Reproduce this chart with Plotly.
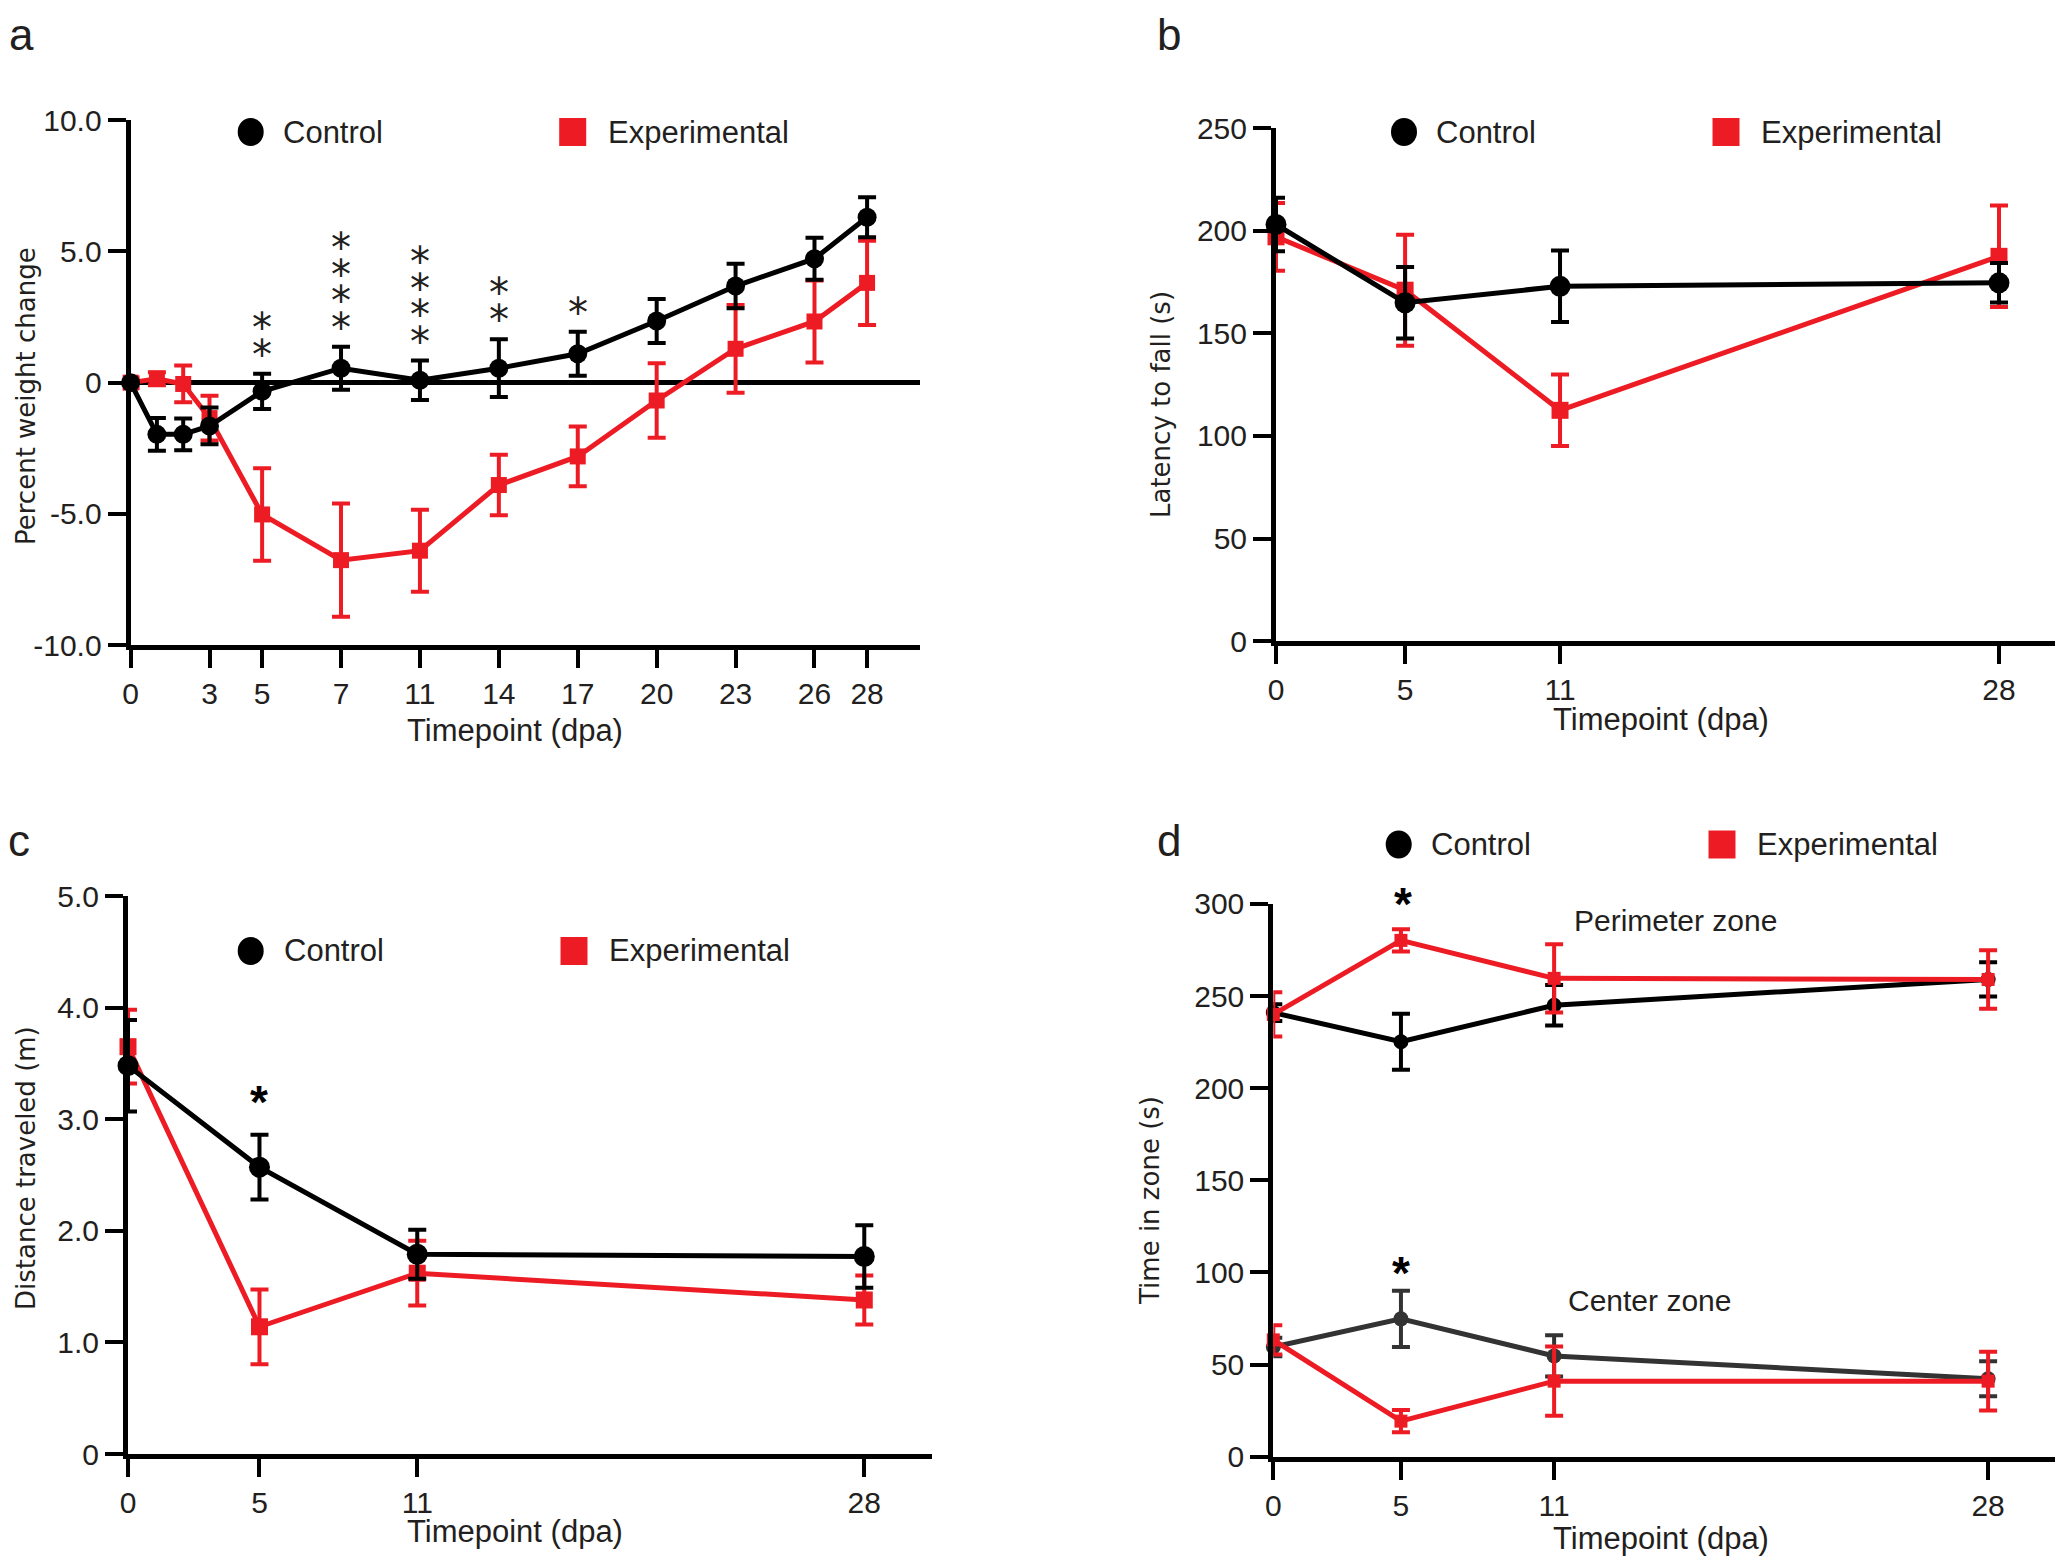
import plotly.graph_objects as go

# page geometry (body has an 8px margin in the browser)
PAGE_W, PAGE_H = 2069, 1567
OFF = 8
W, H = PAGE_W - 2 * OFF, PAGE_H - 2 * OFF
RED = "#ED1C24"
BLK = "#000000"
GRY = "#333333"
TXT = "#231F20"

# ---------------- data ----------------
# panel a: percent weight change
pos_a = [0, 1, 2, 3, 5, 8, 11, 14, 17, 20, 23, 26, 28]          # plotting positions
tickpos_a = [0, 3, 5, 8, 11, 14, 17, 20, 23, 26, 28]
ticklab_a = ["0", "3", "5", "7", "11", "14", "17", "20", "23", "26", "28"]
ctrl_a = [0, -1.97, -1.97, -1.65, -0.33, 0.55, 0.09, 0.55, 1.1, 2.35, 3.68, 4.72, 6.3]
ctrl_a_err = [0, 0.62, 0.6, 0.7, 0.67, 0.82, 0.75, 1.1, 0.84, 0.84, 0.85, 0.8, 0.76]
exp_a = [0, 0.15, -0.05, -1.35, -5.02, -6.76, -6.4, -3.9, -2.81, -0.68, 1.29, 2.33, 3.8]
exp_a_err = [0.2, 0.25, 0.7, 0.85, 1.76, 2.16, 1.56, 1.15, 1.14, 1.42, 1.67, 1.56, 1.6]
star_idx_a = [4, 5, 6, 7, 8]
star_cnt_a = [2, 4, 4, 2, 1]

# panel b: latency to fall
days = [0, 5, 11, 28]
ctrl_b = [203, 164.9, 172.9, 174.6]
ctrl_b_err = [13, 17.4, 17.4, 9.6]
exp_b = [197, 171, 112.5, 187.5]
exp_b_err = [16.5, 27, 17.4, 24.7]

# panel c: distance traveled
ctrl_c = [3.48, 2.57, 1.79, 1.77]
ctrl_c_err = [0.41, 0.29, 0.22, 0.28]
exp_c = [3.65, 1.14, 1.62, 1.38]
exp_c_err = [0.33, 0.335, 0.29, 0.22]

# panel d: time in zone
ctrl_d_per = [241, 225.2, 245, 259]
ctrl_d_per_err = [4.6, 15.2, 11, 9.3]
exp_d_per = [240, 280.2, 259.6, 259]
exp_d_per_err = [12, 6, 18.5, 15.9]
ctrl_d_cen = [59.5, 74.8, 54.7, 42.3]
ctrl_d_cen_err = [5, 15.2, 11.2, 9.5]
exp_d_cen = [63.4, 19.3, 41, 41]
exp_d_cen_err = [8, 6, 18.8, 15.9]


def px(x):
    return (x - OFF) / W


def py(y):
    return 1 - (y - OFF) / H


fig = go.Figure()


def add_series(x, y, err, color, symbol, size, xa, ya, lw=5):
    fig.add_trace(go.Scatter(
        x=x, y=y, mode="lines+markers", xaxis=xa, yaxis=ya,
        line=dict(color=color, width=lw),
        marker=dict(color=color, symbol=symbol, size=size),
        error_y=dict(type="data", array=err, visible=True, color=color, thickness=4, width=9),
        cliponaxis=False, showlegend=False, hoverinfo="skip"))


# panel a
add_series(pos_a, exp_a, exp_a_err, RED, "square", 16, "x", "y")
add_series(pos_a, ctrl_a, ctrl_a_err, BLK, "circle", 19, "x", "y")
# panel b
add_series(days, exp_b, exp_b_err, RED, "square", 17, "x2", "y2")
add_series(days, ctrl_b, ctrl_b_err, BLK, "circle", 21, "x2", "y2")
# panel c
add_series(days, exp_c, exp_c_err, RED, "square", 17, "x3", "y3")
add_series(days, ctrl_c, ctrl_c_err, BLK, "circle", 21, "x3", "y3")
# panel d
add_series(days, ctrl_d_per, ctrl_d_per_err, BLK, "circle", 15, "x4", "y4")
add_series(days, ctrl_d_cen, ctrl_d_cen_err, GRY, "circle", 15, "x4", "y4")
add_series(days, exp_d_per, exp_d_per_err, RED, "square", 13, "x4", "y4")
add_series(days, exp_d_cen, exp_d_cen_err, RED, "square", 13, "x4", "y4")

TICKFONT = dict(family="Liberation Sans", size=30, color=TXT)
common = dict(showline=True, linewidth=5, linecolor=BLK, ticks="outside", ticklen=18,
              tickwidth=4, tickcolor=BLK, showgrid=False, tickfont=TICKFONT, fixedrange=True,
              automargin=False)

fig.update_layout(
    width=W, height=H, margin=dict(l=0, r=0, t=0, b=0, pad=0),
    paper_bgcolor="white", plot_bgcolor="white", showlegend=False,
    xaxis=dict(domain=[px(130.6), px(919.7)], range=[0, 30], anchor="y",
               tickvals=tickpos_a, ticktext=ticklab_a, zeroline=False, **common),
    yaxis=dict(domain=[py(645.2), py(120.1)], range=[-10, 10], anchor="x",
               tickvals=[-10, -5, 0, 5, 10], ticktext=["-10.0", "-5.0", "0", "5.0", "10.0"],
               zeroline=True, zerolinecolor=BLK, zerolinewidth=5, **common),
    xaxis2=dict(domain=[px(1276), px(2054.5)], range=[0, 30.15], anchor="y2",
                tickvals=days, zeroline=False, **common),
    yaxis2=dict(domain=[py(641.3), py(128)], range=[0, 250], anchor="x2",
                tickvals=[0, 50, 100, 150, 200, 250], zeroline=False, **common),
    xaxis3=dict(domain=[px(128), px(931.6)], range=[0, 30.56], anchor="y3",
                tickvals=days, zeroline=False, **common),
    yaxis3=dict(domain=[py(1454), py(896)], range=[0, 5], anchor="x3",
                tickvals=[0, 1, 2, 3, 4, 5], ticktext=["0", "1.0", "2.0", "3.0", "4.0", "5.0"],
                zeroline=False, **common),
    xaxis4=dict(domain=[px(1273.3), px(2054.5)], range=[0, 30.6], anchor="y4",
                tickvals=days, zeroline=False, **common),
    yaxis4=dict(domain=[py(1456.7), py(903.9)], range=[0, 300], anchor="x4",
                tickvals=[0, 50, 100, 150, 200, 250, 300], zeroline=False, **common),
)

ann = []
shapes = []
LBL = dict(family="Liberation Sans", size=31, color=TXT)
YT = dict(family="DejaVu Sans", size=26, color=TXT)


def text(x, y, s, font, xanchor="center", angle=0, yanchor="middle"):
    ann.append(dict(x=px(x), y=py(y), xref="paper", yref="paper", text=s, showarrow=False,
                    xanchor=xanchor, yanchor=yanchor, font=font, textangle=angle))


# panel letters
LET = dict(family="Liberation Sans", size=44, color=TXT)
for (x, y, s) in [(21, 8, "a"), (1169, 8, "b"), (19, 814, "c"), (1169, 814, "d")]:
    text(x, y, s, LET, yanchor="top")

# axis titles
text(26, 396, "Percent weight change", YT, angle=-90)
text(1161, 405, "Latency to fall (s)", YT, angle=-90)
text(26, 1168, "Distance traveled (m)", YT, angle=-90)
text(1150, 1201, "Time in zone (s)", YT, angle=-90)
text(514.6, 730, "Timepoint (dpa)", LBL)
text(1661, 719, "Timepoint (dpa)", LBL)
text(514.6, 1531, "Timepoint (dpa)", LBL)
text(1661, 1558, "Timepoint (dpa)", LBL, yanchor="bottom")

# legends
legends = [((250.7, 132), (281, 132), (572.7, 132), (605.6, 132)),
           ((1404, 132), (1434, 132), (1726, 132), (1759, 132)),
           ((250.7, 951), (282, 951), (574, 951), (607, 951)),
           ((1398.7, 844.5), (1429, 844.5), (1722, 844.5), (1755, 844.5))]
for c, ct, s, st in legends:
    shapes.append(dict(type="circle", xref="paper", yref="paper", xsizemode="pixel", ysizemode="pixel",
                       xanchor=px(c[0]), yanchor=py(c[1]), x0=-13, x1=13, y0=-14, y1=14,
                       fillcolor=BLK, line=dict(width=0)))
    shapes.append(dict(type="rect", xref="paper", yref="paper", xsizemode="pixel", ysizemode="pixel",
                       xanchor=px(s[0]), yanchor=py(s[1]), x0=-13.5, x1=13.5, y0=-14, y1=14,
                       fillcolor=RED, line=dict(width=0)))
    text(ct[0], ct[1], "Control", LBL, xanchor="left")
    text(st[0], st[1], "Experimental", LBL, xanchor="left")

# zone labels
text(1675.8, 920, "Perimeter zone", dict(family="Liberation Sans", size=30, color=TXT))
text(1649, 1300, "Center zone", dict(family="Liberation Sans", size=30, color=TXT))

# significance stars panel a (one stacked text per timepoint)
STAR = '<span style="font-size:40px">*</span>'
for i, n in zip(star_idx_a, star_cnt_a):
    top = ctrl_a[i] + ctrl_a_err[i]
    ann.append(dict(x=pos_a[i], y=top, xref="x", yref="y", text="<br>".join([STAR] * n),
                    showarrow=False, xanchor="center", yanchor="bottom", yshift=-6,
                    font=dict(family="DejaVu Sans", size=20.5, color=TXT)))

# significance stars panels c, d
BOLDSTAR = dict(family="Liberation Sans", size=46, color=BLK)
ann.append(dict(x=days[1], y=3.23, xref="x3", yref="y3", text="<b>*</b>", showarrow=False,
                yshift=-8, font=BOLDSTAR))
text(1402.6, 903.6, "<b>*</b>", BOLDSTAR)
ann.append(dict(x=days[1], y=104, xref="x4", yref="y4", text="<b>*</b>", showarrow=False,
                yshift=-8, font=BOLDSTAR))

fig.update_layout(annotations=ann, shapes=shapes)
fig.write_html("out.html")
